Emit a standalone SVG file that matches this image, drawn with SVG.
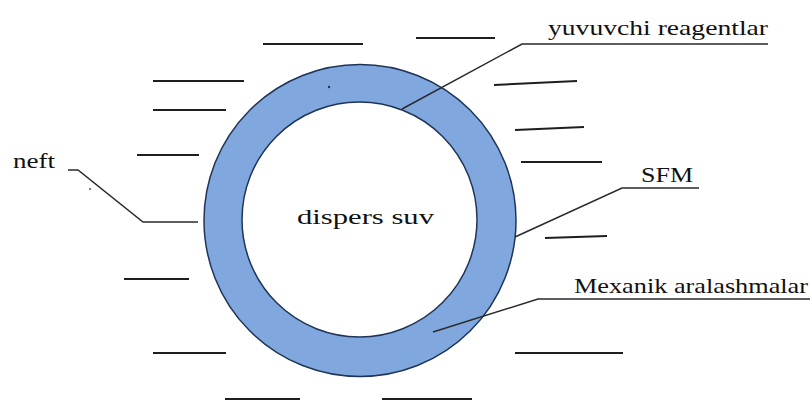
<svg xmlns="http://www.w3.org/2000/svg" width="810" height="401" viewBox="0 0 810 401">
<style>
.dash{stroke:#1e1e1e;stroke-width:2;fill:none}
.lead{stroke:#2a2a2a;stroke-width:1.5;fill:none}
.lbl{font-family:"Liberation Serif","Times New Roman",serif;font-size:21px;fill:#111}
</style>
<rect width="810" height="401" fill="#fff"/>
<g id="ring">
<circle cx="360" cy="220.5" r="156" fill="#80a8de" stroke="#1f3457" stroke-width="1.5"/>
<circle cx="359.5" cy="219.5" r="117.5" fill="#fff" stroke="#1f3457" stroke-width="1.5"/>
<circle cx="329" cy="87" r="1.2" fill="#1f3457"/>
</g>
<g id="center-label">
<text class="lbl" x="297" y="224" font-size="23" textLength="137" lengthAdjust="spacingAndGlyphs">dispers suv</text>
</g>
<g id="dashes">
<line class="dash" x1="263" y1="44" x2="363" y2="44"/>
<line class="dash" x1="416" y1="38" x2="495" y2="38"/>
<line class="dash" x1="153" y1="81" x2="244" y2="81"/>
<line class="dash" x1="153" y1="110" x2="226" y2="110"/>
<line class="dash" x1="137" y1="155" x2="199" y2="155"/>
<line class="dash" x1="494" y1="85" x2="577" y2="81"/>
<line class="dash" x1="515" y1="130" x2="584" y2="127"/>
<line class="dash" x1="521" y1="162" x2="602" y2="162"/>
<line class="dash" x1="124" y1="279" x2="189" y2="279"/>
<line class="dash" x1="545" y1="238" x2="607" y2="236"/>
<line class="dash" x1="153" y1="353" x2="226" y2="353"/>
<line class="dash" x1="515" y1="353" x2="623" y2="353"/>
<line class="dash" x1="225" y1="399" x2="300" y2="399"/>
<line class="dash" x1="382" y1="399" x2="472" y2="399" stroke="#666"/>
<circle cx="90" cy="189" r="0.9" fill="#444"/>
</g>
<g id="connectors">
<polyline class="lead" points="68,170 78,170 143,222 198,222"/>
<polyline class="lead" points="768,44 522,44 402,109"/>
<polyline class="lead" points="699,188 622,188 515,237"/>
<polyline class="lead" points="810,299 538,299 433,332"/>
</g>
<g id="label-neft"><text class="lbl" x="13" y="168" textLength="42" lengthAdjust="spacingAndGlyphs">neft</text></g>
<g id="label-yuvuvchi"><text class="lbl" x="548" y="35" textLength="220" lengthAdjust="spacingAndGlyphs">yuvuvchi reagentlar</text></g>
<g id="label-sfm"><text class="lbl" x="641" y="182" textLength="52" lengthAdjust="spacingAndGlyphs">SFM</text></g>
<g id="label-mexanik"><text class="lbl" x="574" y="293" textLength="234" lengthAdjust="spacingAndGlyphs">Mexanik aralashmalar</text></g>
</svg>
